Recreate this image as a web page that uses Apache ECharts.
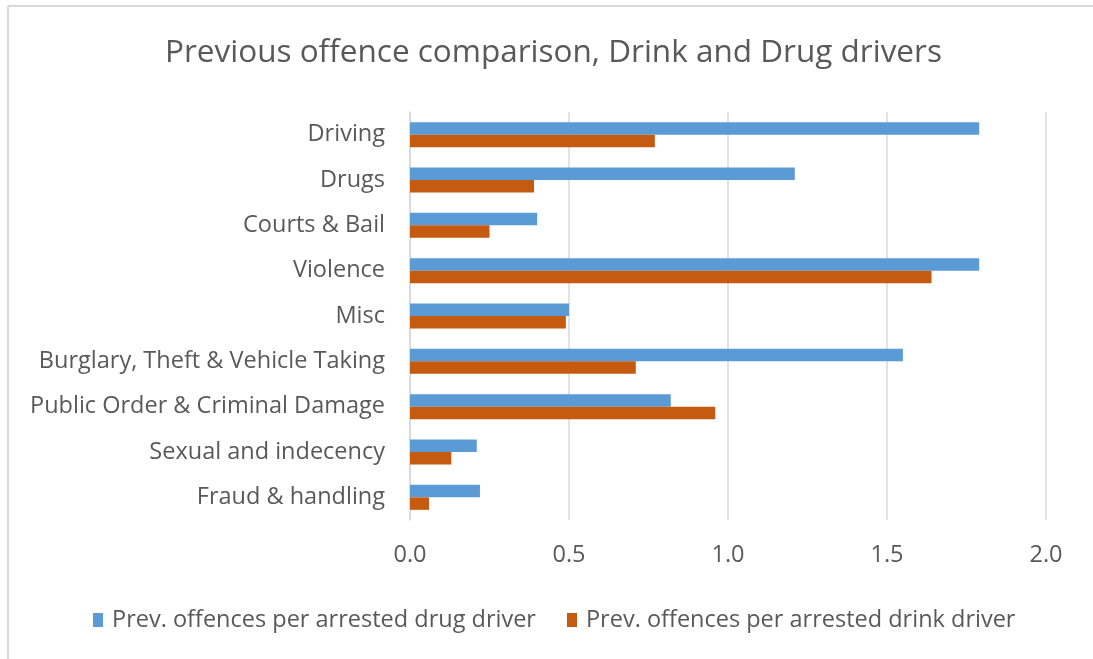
<!DOCTYPE html>
<html>
<head>
<meta charset="utf-8">
<script src="https://cdn.jsdelivr.net/npm/echarts@6/dist/echarts.min.js"></script>
<style>
html,body{margin:0;padding:0;background:#fff;}
#chart{width:1093px;height:659px;}
</style>
</head>
<body>
<div id="chart"></div>
<script>
var categories = ["Driving", "Drugs", "Courts & Bail", "Violence", "Misc", "Burglary, Theft & Vehicle Taking", "Public Order & Criminal Damage", "Sexual and indecency", "Fraud & handling"];
var drugDriver = [1.79, 1.21, 0.40, 1.79, 0.50, 1.55, 0.82, 0.21, 0.22];
var drinkDriver = [0.77, 0.39, 0.25, 1.64, 0.49, 0.71, 0.96, 0.13, 0.06];
var seriesNames = ["Prev. offences per arrested drug driver", "Prev. offences per arrested drink driver"];
var titleText = "Previous offence comparison, Drink and Drug drivers";

var FONT = "Open Sans";
var chart = echarts.init(document.getElementById('chart'));
chart.setOption({
  backgroundColor: '#ffffff',
  animation: false,
  title: {
    text: titleText,
    left: 160,
    top: 32,
    textStyle: { fontFamily: FONT, fontSize: 31.5, fontWeight: 'normal', color: '#595959' }
  },
  legend: {
    data: seriesNames,
    left: 88,
    top: 603,
    itemWidth: 10,
    itemHeight: 14,
    itemGap: 31,
    icon: 'rect',
    textStyle: { fontFamily: FONT, fontSize: 23.5, color: '#595959', padding: [0, 0, 0, 4] }
  },
  grid: { left: 410, right: 47, top: 112, bottom: 139, containLabel: false },
  xAxis: {
    type: 'value',
    min: 0, max: 2, interval: 0.5,
    axisLine: { show: false },
    axisTick: { show: false },
    splitLine: { lineStyle: { color: '#d9d9d9', width: 1.5 } },
    axisLabel: { fontFamily: FONT, fontSize: 23.5, color: '#595959', margin: 23,
      formatter: function (v) { return v.toFixed(1); } }
  },
  yAxis: {
    type: 'category',
    data: categories,
    inverse: true,
    axisLine: { show: true, lineStyle: { color: '#d9d9d9', width: 1.5 } },
    axisTick: { show: false },
    axisLabel: { fontFamily: FONT, fontSize: 23.5, color: '#595959', margin: 25 }
  },
  series: [
    { name: seriesNames[0], type: 'bar', data: drugDriver, barWidth: 12.5, barGap: '0%',
      itemStyle: { color: '#5B9BD5' } },
    { name: seriesNames[1], type: 'bar', data: drinkDriver, barWidth: 12.5, barGap: '0%',
      itemStyle: { color: '#C55A11' } }
  ],
  graphic: [
    { type: 'line', shape: { x1: 8, y1: 6, x2: 1093, y2: 6 }, style: { stroke: '#d9d9d9', lineWidth: 2 } },
    { type: 'line', shape: { x1: 8, y1: 6, x2: 8, y2: 659 }, style: { stroke: '#d9d9d9', lineWidth: 2 } }
  ]
});
</script>
</body>
</html>
